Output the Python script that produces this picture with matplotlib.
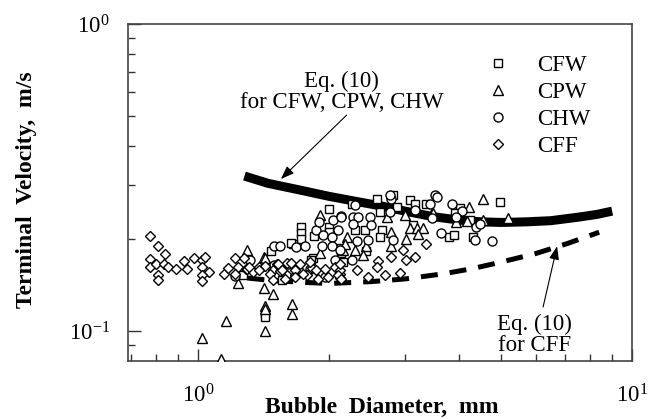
import numpy as np
import matplotlib
matplotlib.use('Agg')
import matplotlib.pyplot as plt
from matplotlib.ticker import FixedLocator, NullFormatter, FixedFormatter

plt.rcParams['font.family'] = ['Liberation Serif', 'DejaVu Serif']
plt.rcParams['mathtext.fontset'] = 'custom'
plt.rcParams['mathtext.rm'] = 'Liberation Serif'
plt.rcParams['mathtext.it'] = 'Liberation Serif:italic'

# ── data (diameter mm, velocity m/s) ──────────────────────────────────────────
cfw_d = [1.43, 1.43, 1.73, 1.73, 1.73, 1.66, 1.85, 2.0, 2.0, 2.0, 1.64, 1.47,
         2.14, 2.58, 2.82, 3.08, 3.35, 2.26, 2.63, 2.87, 3.16, 2.30, 2.42, 2.65,
         2.63, 3.13, 2.14, 2.14, 2.44, 4.96, 4.01, 3.91, 4.23, 3.78, 3.88, 4.30,
         1.27, 1.56, 1.84, 1.82, 2.16]
cfw_v = [0.115, 0.111, 0.218, 0.209, 0.200, 0.193, 0.204, 0.250, 0.218, 0.210,
         0.194, 0.182, 0.182, 0.270, 0.277, 0.267, 0.260, 0.260, 0.245, 0.254,
         0.260, 0.213, 0.214, 0.213, 0.203, 0.222, 0.180, 0.187, 0.182, 0.264,
         0.251, 0.242, 0.231, 0.203, 0.206, 0.202, 0.152, 0.147, 0.173, 0.170,
         0.168]

cpw_d = [1.30, 1.24, 1.16, 1.02, 1.13, 1.42, 1.49, 1.43, 1.43, 1.43, 1.65, 1.65,
         1.42, 1.91, 1.91, 2.16, 2.72, 3.00, 3.47, 2.79, 2.79, 3.08, 3.19, 3.30,
         3.02, 3.21, 2.20, 2.18, 2.30, 2.44, 2.40, 4.54, 4.21, 5.17, 4.54, 4.17,
         3.94, 3.48, 1.43]
cpw_v = [0.184, 0.144, 0.108, 0.095, 0.081, 0.138, 0.132, 0.121, 0.118, 0.100,
         0.123, 0.114, 0.175, 0.239, 0.180, 0.184, 0.236, 0.239, 0.242, 0.210,
         0.190, 0.216, 0.216, 0.216, 0.200, 0.208, 0.203, 0.193, 0.184, 0.189,
         0.177, 0.270, 0.253, 0.233, 0.230, 0.229, 0.226, 0.243, 0.173]

chw_d = [1.50, 1.545, 1.68, 1.76, 1.87, 2.14, 2.05, 1.90, 1.94, 2.04, 1.93, 2.04,
         2.30, 2.14, 2.28, 2.34, 2.49, 2.28, 2.51, 2.10, 2.77, 2.79, 3.16, 3.42,
         3.51, 2.82, 2.32, 2.46, 2.26, 3.55, 3.84, 4.05, 3.94, 4.38, 4.46, 3.64,
         4.35, 4.77, 3.47, 1.22, 1.50, 1.61, 1.70, 1.81, 2.07, 1.96, 1.32, 1.40,
         2.12, 2.77]
chw_v = [0.190, 0.190, 0.188, 0.190, 0.213, 0.237, 0.231, 0.227, 0.206, 0.203,
         0.190, 0.190, 0.257, 0.236, 0.236, 0.236, 0.236, 0.224, 0.222, 0.213,
         0.245, 0.270, 0.248, 0.260, 0.277, 0.198, 0.196, 0.198, 0.170, 0.273,
         0.260, 0.247, 0.236, 0.218, 0.223, 0.209, 0.198, 0.197, 0.233, 0.151,
         0.164, 0.166, 0.160, 0.160, 0.170, 0.150, 0.170, 0.162, 0.184, 0.277]

cff_d = [0.774, 0.81, 0.84, 0.774, 0.774, 0.80, 0.835, 0.855, 0.89, 0.81, 0.81,
         0.93, 0.945, 0.98, 1.02, 1.04, 1.02, 1.06, 1.02, 1.02, 1.15, 1.17, 1.22,
         1.28, 1.24, 1.22, 1.29, 1.30, 1.34, 1.38, 1.43, 1.49, 1.52, 1.60, 1.64,
         1.72, 1.60, 1.67, 1.78, 1.83, 1.545, 1.31, 1.38, 1.465, 1.53, 1.56, 1.67,
         1.67, 1.75, 1.81, 1.87, 1.96, 1.89, 1.99, 2.07, 2.12, 1.49, 1.59, 3.36,
         2.97, 3.16, 3.02, 2.79, 2.60, 2.58, 2.32, 2.47, 2.70, 2.92, 2.12, 2.12,
         2.12, 2.10, 2.14]
cff_v = [0.204, 0.190, 0.178, 0.172, 0.162, 0.166, 0.166, 0.162, 0.160, 0.152,
         0.147, 0.169, 0.160, 0.173, 0.170, 0.174, 0.162, 0.156, 0.152, 0.146,
         0.153, 0.161, 0.173, 0.173, 0.162, 0.153, 0.160, 0.160, 0.156, 0.162,
         0.163, 0.158, 0.166, 0.167, 0.167, 0.166, 0.152, 0.152, 0.152, 0.161,
         0.157, 0.162, 0.158, 0.154, 0.166, 0.158, 0.158, 0.150, 0.154, 0.168,
         0.158, 0.160, 0.148, 0.150, 0.162, 0.154, 0.147, 0.148, 0.193, 0.184,
         0.174, 0.171, 0.175, 0.169, 0.162, 0.158, 0.150, 0.152, 0.155, 0.158,
         0.149, 0.166, 0.152, 0.148]

# Eq. (10) curves
eq_w_d = [1.28, 1.45, 1.72, 2.0, 2.3, 2.67, 3.0, 3.48, 4.0, 4.5, 5.0, 5.7,
          6.5, 7.5, 8.3, 9.0]
eq_w_v = [0.320, 0.303, 0.288, 0.275, 0.265, 0.255, 0.246, 0.236, 0.230,
          0.227, 0.226, 0.227, 0.229, 0.235, 0.240, 0.246]
eq_f_d = [1.30, 1.5, 1.8, 2.0, 2.5, 3.0, 3.7, 4.3, 5.0, 6.0, 7.1, 8.4]
eq_f_v = [0.149, 0.146, 0.144, 0.143, 0.145, 0.148, 0.154, 0.160, 0.168,
          0.179, 0.193, 0.210]

FS = 16.5
fig = plt.figure(figsize=(6.58, 4.19), dpi=100)
ax = fig.add_axes([0.1945, 0.1384, 0.766, 0.8043])
ax.set_xscale('log')
ax.set_yscale('log')
ax.set_xlim(0.69, 10)
ax.set_ylim(0.08, 1.0)

ax.plot(eq_w_d, eq_w_v, color='black', lw=6.5, solid_capstyle='butt', zorder=2)
ax.plot(eq_f_d, eq_f_v, color='black', lw=3.6, dashes=(3.4, 2.4),
        dash_capstyle='butt', zorder=2)

mk = dict(linestyle='none', mfc='white', mec='black', mew=1.0, zorder=3)
ax.plot(cfw_d, cfw_v, marker='s', ms=6.0, label='CFW', **mk)
ax.plot(cpw_d, cpw_v, marker='^', ms=6.5, label='CPW', **mk)
ax.plot(chw_d, chw_v, marker='o', ms=6.5, label='CHW', **mk)
ax.plot(cff_d, cff_v, marker='D', ms=5.0, label='CFF', **mk)

ax.legend(loc='upper left', bbox_to_anchor=(0.716, 0.907), frameon=False,
          fontsize=FS, handlelength=0.8, handletextpad=1.3,
          labelspacing=0.25, borderpad=0, borderaxespad=0, numpoints=1)

# annotations
arrow = dict(arrowstyle='-|>,head_length=0.8,head_width=0.3',
             color='black', lw=0.8, shrinkA=0, shrinkB=0)
ax.text(2.14, 0.600, 'Eq. (10)\nfor CFW, CPW, CHW', ha='center', va='center',
        fontsize=FS, linespacing=1.0)
ax.annotate('', xy=(1.553, 0.313), xytext=(2.20, 0.505), arrowprops=arrow)
ax.text(5.95, 0.0975, 'Eq. (10)\nfor CFF', ha='center', va='center',
        fontsize=FS, linespacing=1.0)
ax.annotate('', xy=(6.72, 0.189), xytext=(6.24, 0.120), arrowprops=arrow)

# ticks
ax.xaxis.set_major_locator(FixedLocator([1, 10]))
ax.xaxis.set_major_formatter(FixedFormatter([r'$10^{0}$', r'$10^{1}$']))
ax.xaxis.set_minor_locator(FixedLocator([0.7, 0.8, 0.9, 2, 3, 4, 5, 6, 7, 8, 9]))
ax.xaxis.set_minor_formatter(NullFormatter())
ax.yaxis.set_major_locator(FixedLocator([0.1, 1]))
ax.yaxis.set_major_formatter(FixedFormatter([r'$10^{-1}$', r'$10^{0}$']))
ax.yaxis.set_minor_locator(FixedLocator([0.09, 0.2, 0.3, 0.4, 0.5, 0.6, 0.7, 0.8, 0.9]))
ax.yaxis.set_minor_formatter(NullFormatter())

ax.tick_params(which='both', direction='in', top=False, right=False,
               color='#333333', width=1.0, labelsize=FS)
ax.tick_params(which='major', length=9)
ax.tick_params(which='minor', length=5)
ax.tick_params(axis='x', which='major', pad=17)
ax.tick_params(axis='y', which='major', pad=13)
for sp in ax.spines.values():
    sp.set_color('#444444')
    sp.set_linewidth(1.2)

ax.set_xlabel('Bubble  Diameter,  mm', fontsize=17, fontweight='bold')
ax.set_ylabel('Terminal  Velocity,  m/s', fontsize=17, fontweight='bold')
ax.xaxis.set_label_coords(0.503, -0.108)
ax.yaxis.set_label_coords(-0.181, 0.507)

fig.savefig('out.png', dpi=100)
